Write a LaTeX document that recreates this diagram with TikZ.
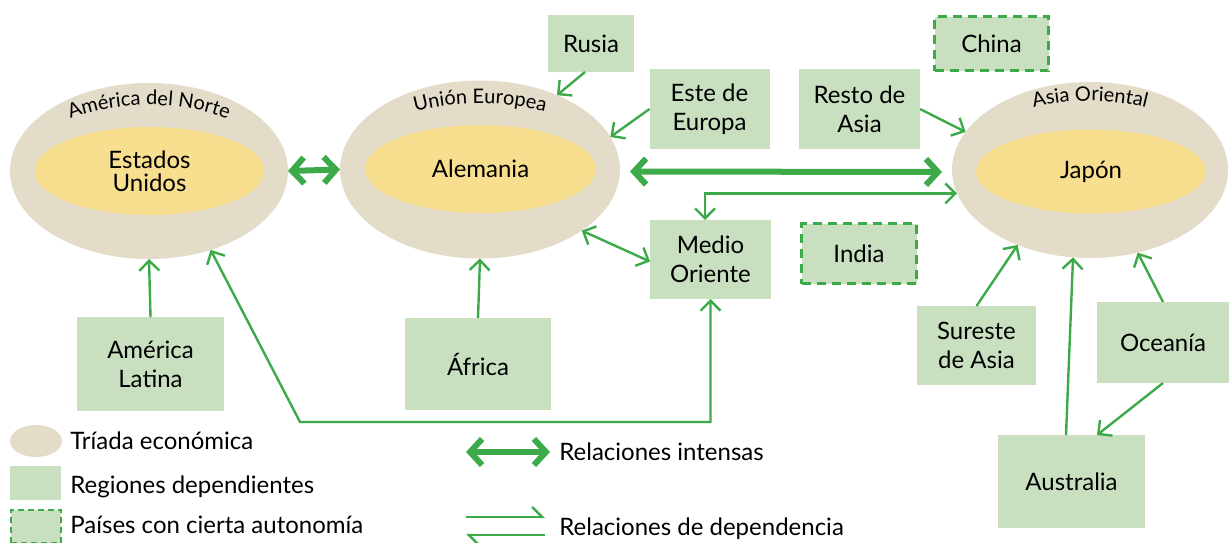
\documentclass[tikz,border=0pt]{standalone}
\usepackage{fontspec}
\setmainfont{Lato}
\usetikzlibrary{shapes.geometric,arrows.meta,decorations.text}
\definecolor{gline}{HTML}{3DAA49}
\definecolor{gbox}{HTML}{C8E0C0}
\definecolor{beige}{HTML}{E2DCC8}
\definecolor{yel}{HTML}{F7DF8F}
\begin{document}
\begin{tikzpicture}[x=0.5pt,y=-0.5pt,
  ring/.style={ellipse,fill=beige,inner sep=0pt,outer sep=0pt},
  core/.style={ellipse,fill=yel,inner sep=0pt,outer sep=0pt,align=center,font=\fontsize{12}{11.5}\selectfont},
  regbox/.style={rectangle,fill=gbox,inner sep=0pt,outer sep=0pt,align=center,font=\fontsize{12}{14.5}\selectfont},
  autobox/.style={regbox,draw=gline,line width=1.75pt,dash pattern=on 4.5pt off 3pt},
  dep/.style={draw=gline,line width=1.2pt,-{Straight Barb[length=5pt,width=10pt]}},
  depboth/.style={draw=gline,line width=1.2pt,{Straight Barb[length=5pt,width=10pt]}-{Straight Barb[length=5pt,width=10pt]}},
  dephalf/.style={draw=gline,line width=1.2pt,-{Straight Barb[length=5pt,width=10pt,harpoon]}},
  intense/.style={draw=gline,line width=3pt,{Straight Barb[length=6pt,width=13pt]}-{Straight Barb[length=6pt,width=13pt]}},
  lbl/.style={anchor=base west,inner sep=0pt,font=\fontsize{12}{14}\selectfont},
  curvtext/.style={decorate,decoration={text along path,text align=center,text={|\fontsize{10}{10}\selectfont|#1}}}
]
\useasboundingbox (0,0) rectangle (1229,542);

% triad ellipses
\node[ring,minimum width=139pt,minimum height=88pt] (na) at (149,171) {};
\node[core,minimum width=115pt,minimum height=44pt] (nacore) at (149.5,171) {Estados\\Unidos};
\node[ring,minimum width=140pt,minimum height=89pt] (ue) at (480,169.5) {};
\node[core,minimum width=115.5pt,minimum height=44pt] (uecore) at (480.5,169) {Alemania};
\node[ring,minimum width=138pt,minimum height=88pt] (ao) at (1090,170) {};
\node[core,minimum width=115pt,minimum height=42pt] (aocore) at (1091,171.5) {Japón};

\path[curvtext={América del Norte}] ([shift={(162:64pt and 33pt)}]na.center) arc[start angle=162,end angle=18,x radius=64pt,y radius=33pt];
\path[curvtext={Unión Europea}] ([shift={(162:67.5pt and 33pt)}]ue.center) arc[start angle=162,end angle=18,x radius=67.5pt,y radius=33pt];
\path[curvtext={Asia Oriental}] ([shift={(162:65pt and 34.5pt)}]ao.center) arc[start angle=162,end angle=18,x radius=65pt,y radius=34.5pt];

% regions
\node[regbox,minimum width=43pt,minimum height=28.5pt] (rusia) at (591,43.5) {Rusia};
\node[regbox,minimum width=60pt,minimum height=40pt] (este) at (709.5,109) {Este de\\Europa};
\node[regbox,minimum width=60.5pt,minimum height=40pt] (resto) at (859.5,109) {Resto de\\Asia};
\node[autobox,minimum width=57pt,minimum height=27pt] (china) at (991.5,43.5) {China};
\node[regbox,minimum width=60.5pt,minimum height=39.5pt] (medio) at (710.5,259.5) {Medio\\Oriente};
\node[autobox,minimum width=57.5pt,minimum height=30pt] (india) at (859,253.5) {India};
\node[regbox,minimum width=73.5pt,minimum height=47pt] (amlat) at (150.5,364) {América\\Latina};
\node[regbox,minimum width=73pt,minimum height=46pt] (africa) at (478,364) {África};
\node[regbox,minimum width=59.5pt,minimum height=39.5pt] (sureste) at (976.5,345.5) {Sureste\\de Asia};
\node[regbox,minimum width=66pt,minimum height=40.5pt] (oceania) at (1163,342.5) {Oceanía};
\node[regbox,minimum width=73.5pt,minimum height=46.5pt] (australia) at (1071.5,481.5) {Australia};

% intense relations
\draw[intense] (na.east) -- (ue.west);
\draw[intense,shorten <=5pt,shorten >=5pt] ([yshift=-1pt]ue.east) -- ([yshift=-1pt]ao.west);

% dependence relations
\draw[dep] (amlat.north) -- (na.south);
\draw[dep] (africa.north) -- (ue.south);
\draw[dep] ([xshift=-3pt]rusia.south) -- (ue.44);
\draw[dep] (este.west) -- (ue.14);
\draw[dep] (resto.east) -- (ao.163);
\draw[depboth] (ao.190) -| ([xshift=-2.75pt]medio.north);
\draw[depboth] (ue.-31) -- ([yshift=-1pt]medio.west);
\coordinate (c1) at (300,422);
\draw[depboth] (na.-52) -- (c1) -| (medio.south);
\draw[dep] (sureste.north) -- (ao.226);
\draw[dep] ([xshift=-2.75pt]australia.north) -- (ao.259);
\draw[dep] (oceania.south) -- (australia.north -| oceania.west);
\draw[dep] (oceania.north) -- (ao.300);

% legend
\node[ring,minimum width=26pt,minimum height=16pt] (lg1) at (36,441) {};
\node[regbox,minimum width=25.5pt,minimum height=17pt] (lg2) at (35.5,483) {};
\node[regbox,draw=gline,line width=1pt,dash pattern=on 3pt off 2pt,minimum width=25pt,minimum height=16.5pt] (lg3) at (36,526) {};
\node[lbl] (lt1) at (70,449) {Tríada económica};
\node[lbl] (lt2) at (70,493) {Regiones dependientes};
\node[lbl] (lt3) at (70,533) {Países con cierta autonomía};

\coordinate (li1) at (466,452);
\coordinate (li2) at (550,452);
\draw[intense] (li1) -- (li2);
\node[lbl] (lt4) at (559,460) {Relaciones intensas};
\coordinate (ld1) at (466,517);
\coordinate (ld2) at (545,517);
\coordinate (ld3) at (545,535);
\coordinate (ld4) at (466,535);
\draw[dephalf] (ld1) -- (ld2);
\draw[dephalf] (ld3) -- (ld4);
\node[lbl] (lt5) at (559,535) {Relaciones de dependencia};
\end{tikzpicture}
\end{document}
